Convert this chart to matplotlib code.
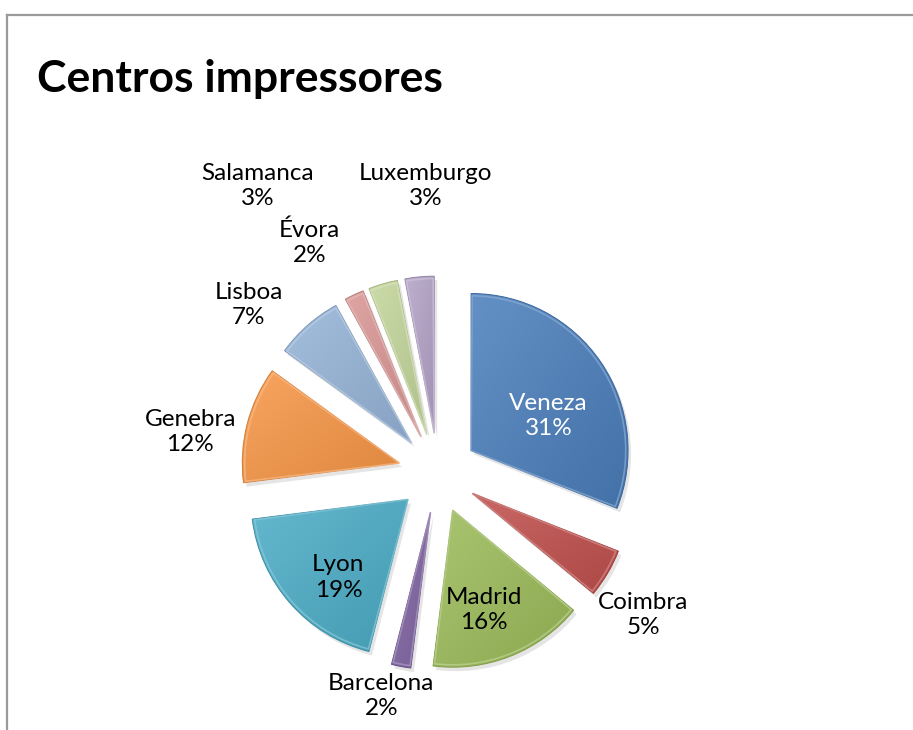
import numpy as np
import matplotlib.pyplot as plt
import matplotlib.colors as mcolors
from matplotlib.lines import Line2D
from matplotlib.patches import Wedge

cidades = ['Veneza', 'Coimbra', 'Madrid', 'Barcelona', 'Lyon', 'Genebra',
           'Lisboa', 'Évora', 'Salamanca', 'Luxemburgo']
percentagens = [31, 5, 16, 2, 19, 12, 7, 2, 3, 3]
cores = ['#4a7ebb', '#c0504d', '#9bbb59', '#8064a2', '#4bacc6', '#f79646',
         '#95b3d7', '#d99694', '#c3d69b', '#b3a2c7']

# onde ficam os rótulos (distância em raios, desvio de ângulo em graus)
rotulo_dist = [0.79, 1.59, 0.92, 1.465, 0.92, 1.60, 1.61, 1.68, 2.16, 1.83]
rotulo_desvio = [-7, -4, -3, -3.5, 5, 5, 7, 4, 16, -3]
rotulo_branco = [True, False, False, False, False, False, False, False, False, False]

plt.rcParams['font.family'] = ['Lato', 'DejaVu Sans']

W, H = 913, 730
cx, cy, R = 438, 473, 157  # centro e raio em pixeis

fig = plt.figure(figsize=(W / 100, H / 100), dpi=100)
ax = fig.add_axes([0, 0, 1, 1])

explode = [40 / R] * len(cidades)
wedges, _ = ax.pie(percentagens, explode=explode, colors=cores, startangle=90,
                   counterclock=False, radius=1,
                   wedgeprops=dict(linewidth=0))

ax.set_xlim(-cx / R, (W - cx) / R)
ax.set_ylim(-(H - cy) / R, cy / R)
ax.set_aspect('equal')
ax.axis('off')

# sombra + gradiente leve tipo "bevel"
inv = ax.transData.inverted()
for w, c in zip(wedges, cores):
    base = np.array(mcolors.to_rgb(c))
    claro = base + (1 - base) * 0.14
    escuro = base * 0.9
    x0, y0, x1, y1 = w.get_window_extent().extents
    (dx0, dy0), (dx1, dy1) = inv.transform([(x0, y0), (x1, y1)])
    t = np.linspace(0, 1, 64)
    gx, gy = np.meshgrid(t, t)
    f = (gx + gy) / 2
    img = claro[None, None, :] * (1 - f[..., None]) + escuro[None, None, :] * f[..., None]
    im = ax.imshow(img, extent=(dx0, dx1, dy0, dy1), origin='upper',
                   interpolation='bilinear', zorder=2)
    im.set_clip_path(w)
    w.set_zorder(1)

    sombra = Wedge((w.center[0] + 3 / R, w.center[1] - 4 / R), w.r, w.theta1, w.theta2,
                   facecolor='#000000', alpha=0.1, linewidth=0, zorder=0.5)
    ax.add_patch(sombra)
    borda = Wedge(w.center, w.r, w.theta1, w.theta2, facecolor='none',
                  edgecolor=base * 0.85, linewidth=0.7, zorder=3)
    ax.add_patch(borda)
    brilho = Wedge(w.center, w.r * 0.985, w.theta1 + 0.4, w.theta2 - 0.4, facecolor='none',
                   edgecolor=base + (1 - base) * 0.35, linewidth=1.2, alpha=0.7, zorder=3)
    ax.add_patch(brilho)

# rótulos
for w, nome, p, d, desv, branco in zip(wedges, cidades, percentagens,
                                       rotulo_dist, rotulo_desvio, rotulo_branco):
    ang = np.deg2rad((w.theta1 + w.theta2) / 2 + desv)
    x = d * np.cos(ang)
    y = d * np.sin(ang)
    ax.text(x, y, f'{nome}\n{p}%', ha='center', va='center', fontsize=17.5,
            linespacing=1.25, color='white' if branco else 'black', zorder=5)

fig.text(37 / W, 1 - 92 / H, 'Centros impressores', fontsize=32,
         fontweight='bold', ha='left', va='baseline')

# moldura
fig.add_artist(Line2D([7 / W, 7 / W], [0, 1 - 15 / H], color='#9a9a9a', lw=1.6))
fig.add_artist(Line2D([7 / W, 1], [1 - 15 / H, 1 - 15 / H], color='#9a9a9a', lw=1.6))

fig.savefig('out.png', dpi=100)
